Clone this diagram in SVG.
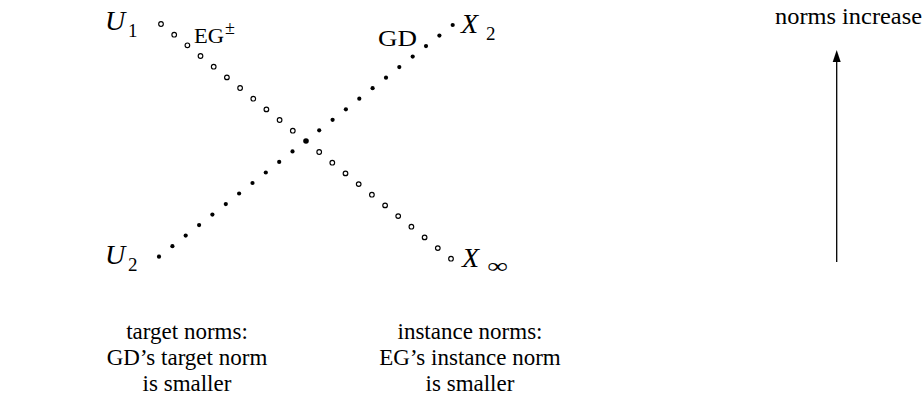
<svg xmlns="http://www.w3.org/2000/svg" width="923" height="401" viewBox="0 0 923 401">
<style>
.t{font-family:"Liberation Serif","Times New Roman",serif;fill:#000}
.i{font-style:italic}
.o{fill:#fff;stroke:#000;stroke-width:1.2}
.f{fill:#000}
</style>
<defs>
<circle id="oc" r="2.3" class="o"/>
<circle id="fc" r="2.1" class="f"/>
</defs>
<rect width="923" height="401" fill="#fff"/>
<g id="connectors">
<g id="eg-path">
<use href="#oc" x="161" y="24"/><use href="#oc" x="174.2" y="34.7"/><use href="#oc" x="187.4" y="45.3"/><use href="#oc" x="200.5" y="56"/><use href="#oc" x="213.7" y="66.7"/><use href="#oc" x="226.9" y="77.4"/><use href="#oc" x="240.1" y="88"/><use href="#oc" x="253.3" y="98.7"/><use href="#oc" x="266.4" y="109.4"/><use href="#oc" x="279.6" y="120"/><use href="#oc" x="292.8" y="130.7"/><use href="#oc" x="319.2" y="152"/><use href="#oc" x="332.3" y="162.7"/><use href="#oc" x="345.5" y="173.4"/><use href="#oc" x="358.7" y="184.1"/><use href="#oc" x="371.9" y="194.7"/><use href="#oc" x="385.1" y="205.4"/><use href="#oc" x="398.2" y="216.1"/><use href="#oc" x="411.4" y="226.7"/><use href="#oc" x="424.6" y="237.4"/><use href="#oc" x="437.8" y="248.1"/><use href="#oc" x="451" y="258.7"/>
</g>
<g id="gd-path">
<use href="#fc" x="159" y="256.7"/><use href="#fc" x="172.4" y="246.2"/><use href="#fc" x="185.7" y="235.6"/><use href="#fc" x="199.1" y="225.1"/><use href="#fc" x="212.4" y="214.6"/><use href="#fc" x="225.8" y="204.1"/><use href="#fc" x="239.1" y="193.5"/><use href="#fc" x="252.5" y="183"/><use href="#fc" x="265.8" y="172.5"/><use href="#fc" x="279.2" y="161.9"/><use href="#fc" x="292.5" y="151.4"/><use href="#fc" x="319.2" y="130.3"/><use href="#fc" x="332.6" y="119.8"/><use href="#fc" x="345.9" y="109.3"/><use href="#fc" x="359.3" y="98.7"/><use href="#fc" x="372.6" y="88.2"/><use href="#fc" x="386" y="77.7"/><use href="#fc" x="399.3" y="67.1"/><use href="#fc" x="412.7" y="56.6"/><use href="#fc" x="426" y="46.1"/><use href="#fc" x="439.4" y="35.6"/><use href="#fc" x="452.7" y="25"/>
</g>
<circle cx="306" cy="141" r="2.8" class="f"/>
<g id="norm-arrow">
<line x1="836.7" y1="262" x2="836.7" y2="58" stroke="#000" stroke-width="1.3"/>
<polygon points="836.7,50 832.7,62 840.7,62" fill="#000"/>
</g>
</g>
<g id="U1"><text class="t i" x="105" y="30" font-size="28">U</text><text class="t" x="128" y="37" font-size="19">1</text></g>
<g id="U2"><text class="t i" x="105" y="264" font-size="28">U</text><text class="t" x="128" y="271" font-size="19">2</text></g>
<g id="X2"><text class="t i" x="461" y="33" font-size="28">X</text><text class="t" x="486" y="40" font-size="19">2</text></g>
<g id="Xinf"><text class="t i" x="462" y="267" font-size="28">X</text><text class="t" x="487" y="273" font-size="21" textLength="21" lengthAdjust="spacingAndGlyphs">∞</text></g>
<g id="EG"><text class="t" x="194" y="43" font-size="21" textLength="30" lengthAdjust="spacingAndGlyphs">EG</text><text class="t" x="225" y="34" font-size="18">±</text></g>
<g id="GD"><text class="t" x="378" y="46" font-size="23" textLength="39" lengthAdjust="spacingAndGlyphs">GD</text></g>
<g id="norms-increase"><text class="t" x="775" y="24" font-size="23" textLength="147" lengthAdjust="spacingAndGlyphs">norms increase</text></g>
<g id="target-caption" class="t" font-size="23" text-anchor="middle">
<text x="187" y="339">target norms:</text>
<text x="187" y="365">GD’s target norm</text>
<text x="187" y="391">is smaller</text>
</g>
<g id="instance-caption" class="t" font-size="23" text-anchor="middle">
<text x="470" y="339">instance norms:</text>
<text x="470" y="365">EG’s instance norm</text>
<text x="470" y="391">is smaller</text>
</g>
</svg>
